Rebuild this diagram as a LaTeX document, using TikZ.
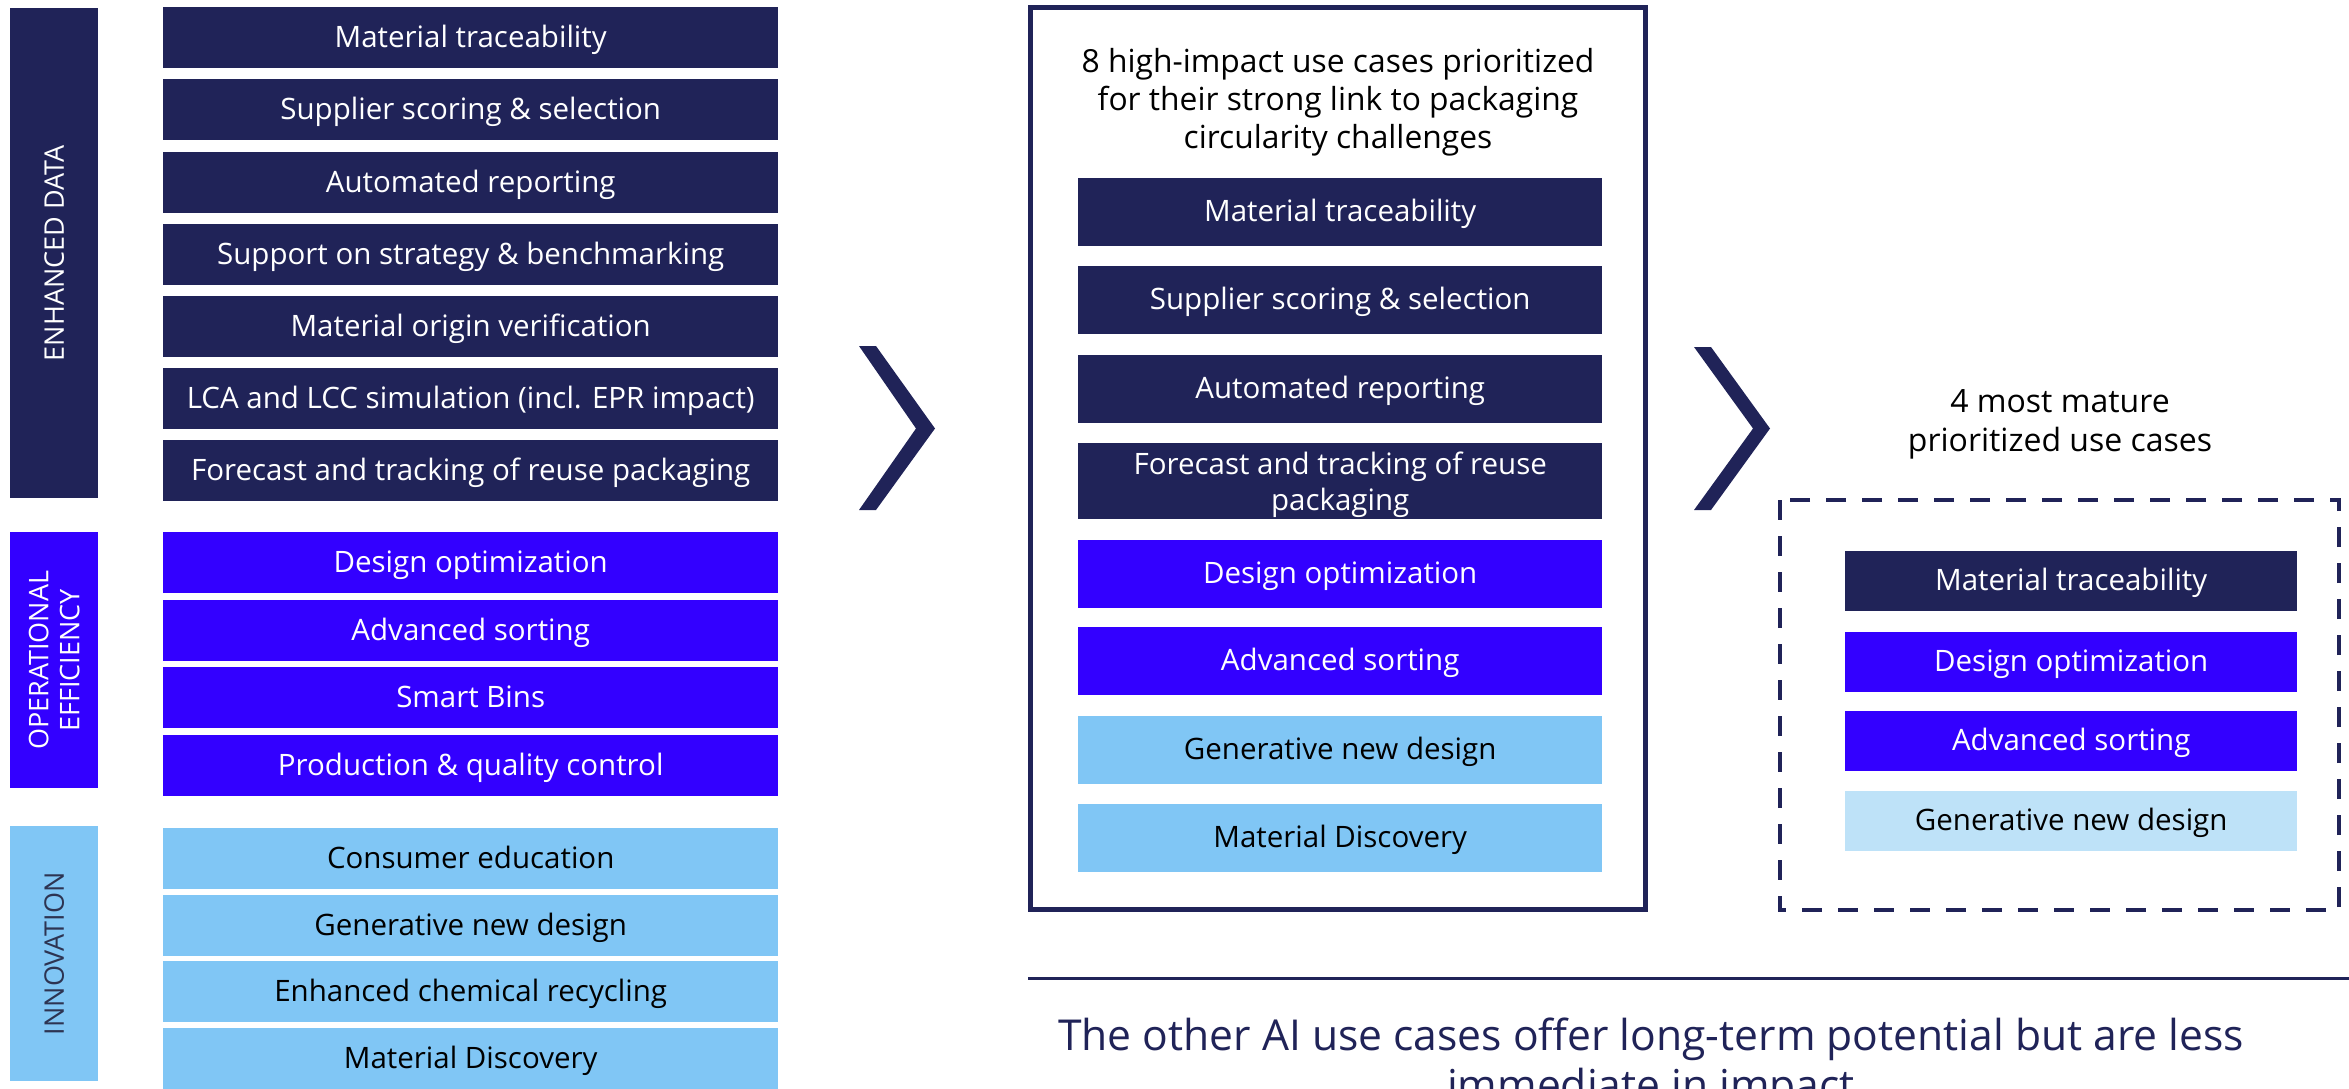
\documentclass[tikz,border=0pt]{standalone}
\usepackage{fontspec}
\setmainfont{Open Sans}
\definecolor{navy}{RGB}{32,35,88}
\definecolor{vblue}{RGB}{51,0,255}
\definecolor{lblue}{RGB}{128,198,245}
\definecolor{llblue}{RGB}{190,226,248}
\definecolor{innotxt}{RGB}{45,52,82}
\newcommand\fsz[2]{\fontsize{#1}{#2}\selectfont}
\begin{document}
\begin{tikzpicture}[x=1pt,y=-1pt,
  cell/.style={rectangle, inner sep=0pt, anchor=north west, align=center, font=\fsz{29.5}{36}, text depth=0pt},
  oneline/.style={text height=19.5pt},
  lcell/.style={cell, oneline, minimum width=615pt, minimum height=61pt},
  mcell/.style={cell, minimum width=524pt, minimum height=68pt},
  rcell/.style={cell, oneline, minimum width=452pt, minimum height=60pt},
  cnavy/.style={fill=navy, text=white},
  cblue/.style={fill=vblue, text=white},
  clight/.style={fill=lblue, text=black},
  clighter/.style={fill=llblue, text=black},
  side/.style={rectangle, inner sep=0pt, anchor=north west, minimum width=88pt},
  sidetxt/.style={rotate=90, align=center, font=\fsz{27}{31}},
  chev/.style={fill=navy, draw=none},
  title/.style={align=center, text=black},
]
\useasboundingbox (0,0) rectangle (2349,1088);

% sidebars
\node[side, cnavy, minimum height=490pt] (sED) at (10,8) {};
\node[sidetxt, text=white] (tED) at (sED.center) {ENHANCED DATA};
\node[side, cblue, minimum height=256pt] (sOE) at (10,532) {};
\node[sidetxt, text=white] (tOE) at (sOE.center) {OPERATIONAL\\EFFICIENCY};
\node[side, clight, minimum height=255pt] (sIN) at (10,826) {};
\node[sidetxt, text=innotxt] (tIN) at (sIN.center) {INNOVATION};

% left column
\node[lcell, cnavy] (l1) at (163,7) {Material traceability};
\node[lcell, cnavy] (l2) at (163,79) {Supplier scoring \& selection};
\node[lcell, cnavy] (l3) at (163,152) {Automated reporting};
\node[lcell, cnavy] (l4) at (163,224) {Support on strategy \& benchmarking};
\node[lcell, cnavy] (l5) at (163,296) {Material origin verification};
\node[lcell, cnavy] (l6) at (163,368) {LCA and LCC simulation (incl. EPR impact)};
\node[lcell, cnavy] (l7) at (163,440) {Forecast and tracking of reuse packaging};
\node[lcell, cblue] (l8) at (163,532) {Design optimization};
\node[lcell, cblue] (l9) at (163,600) {Advanced sorting};
\node[lcell, cblue] (l10) at (163,667) {Smart Bins};
\node[lcell, cblue] (l11) at (163,735) {Production \& quality control};
\node[lcell, clight] (l12) at (163,828) {Consumer education};
\node[lcell, clight] (l13) at (163,895) {Generative new design};
\node[lcell, clight] (l14) at (163,961) {Enhanced chemical recycling};
\node[lcell, clight] (l15) at (163,1028) {Material Discovery};

% chevron 1
\fill[chev] (859,346) -- (876,346) -- (935,428.5) -- (876,510) -- (859,510) -- (916,428.5) -- cycle;

% middle frame
\draw[navy, line width=5pt] (1030.5,7.5) rectangle (1645.5,909.5);
\node[title, font=\fsz{31.8}{38}] (mt) at (1338,102) {8 high-impact use cases prioritized\\for their strong link to packaging\\circularity challenges};
\node[mcell, oneline, cnavy] (m1) at (1078,178) {Material traceability};
\node[mcell, oneline, cnavy] (m2) at (1078,266) {Supplier scoring \& selection};
\node[mcell, oneline, cnavy] (m3) at (1078,355) {Automated reporting};
\node[mcell, cnavy, minimum height=76pt] (m4) at (1078,443) {Forecast and tracking of reuse\\packaging};
\node[mcell, oneline, cblue] (m5) at (1078,540) {Design optimization};
\node[mcell, oneline, cblue] (m6) at (1078,627) {Advanced sorting};
\node[mcell, oneline, clight] (m7) at (1078,716) {Generative new design};
\node[mcell, oneline, clight] (m8) at (1078,804) {Material Discovery};

% chevron 2
\fill[chev] (1694,347) -- (1711,347) -- (1770,428.5) -- (1711,510) -- (1694,510) -- (1753,428.5) -- cycle;

% right
\node[title, font=\fsz{32}{39}] (rt) at (2060,424) {4 most mature\\prioritized use cases};
\draw[navy, line width=4.5pt, dash pattern=on 20pt off 16pt] (1780,500) rectangle (2339,910);
\node[rcell, cnavy] (r1) at (1845,551) {Material traceability};
\node[rcell, cblue] (r2) at (1845,632) {Design optimization};
\node[rcell, cblue] (r3) at (1845,711) {Advanced sorting};
\node[rcell, clighter] (r4) at (1845,791) {Generative new design};

% bottom
\coordinate (bl) at (1028,978);
\coordinate (br) at (2349,978);
\draw[navy, line width=3pt] (bl) -- (br);
\node[align=center, text=navy, font=\fsz{42.6}{50}, anchor=north] (bt) at (1651,1014) {The other AI use cases offer long-term potential but are less\\immediate in impact};
\end{tikzpicture}
\end{document}
